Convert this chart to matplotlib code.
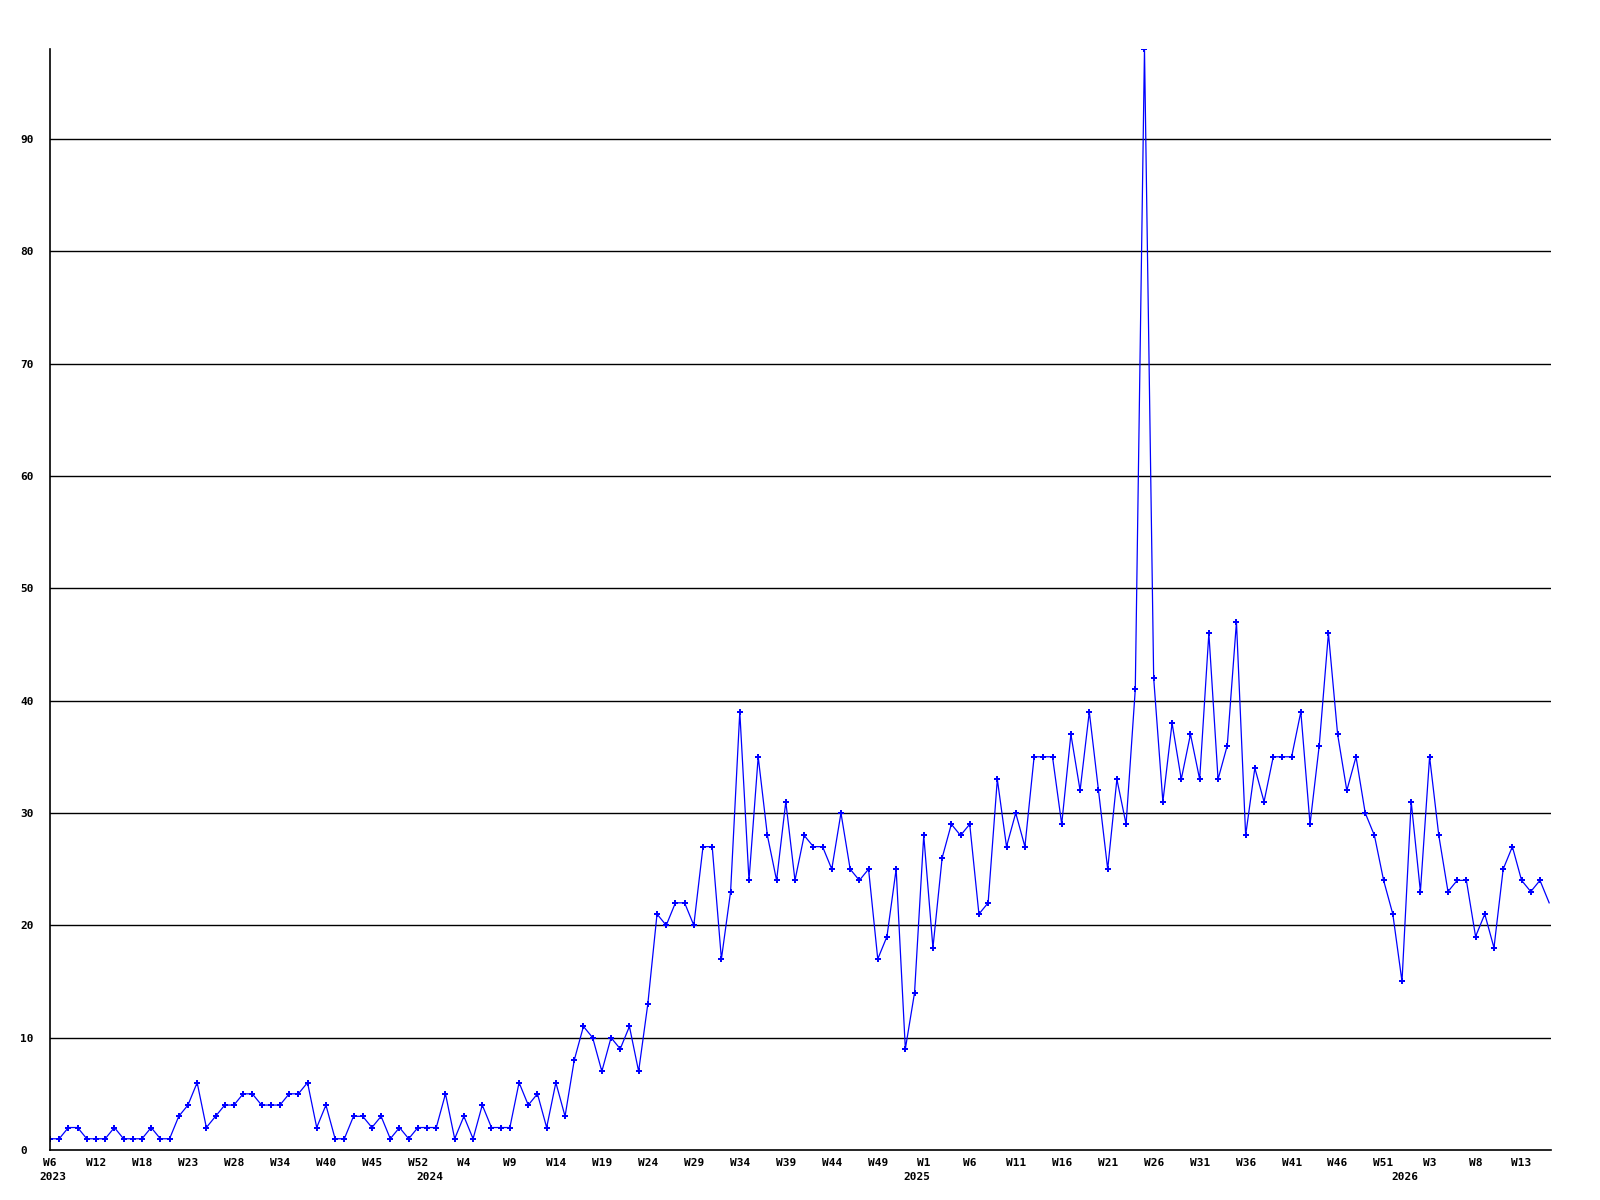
import matplotlib
matplotlib.use('Agg')
import matplotlib.pyplot as plt

# weekly counts, 2023 W6 onwards
values = [1, 1, 2, 2, 1, 1, 1, 2, 1, 1, 1, 2, 1, 1, 3, 4, 6, 2, 3, 4,
          4, 5, 5, 4, 4, 4, 5, 5, 6, 2, 4, 1, 1, 3, 3, 2, 3, 1, 2, 1,
          2, 2, 2, 5, 1, 3, 1, 4, 2, 2, 2, 6, 4, 5, 2, 6, 3, 8, 11, 10,
          7, 10, 9, 11, 7, 13, 21, 20, 22, 22, 20, 27, 27, 17, 23, 39, 24, 35, 28, 24,
          31, 24, 28, 27, 27, 25, 30, 25, 24, 25, 17, 19, 25, 9, 14, 28, 18, 26, 29, 28,
          29, 21, 22, 33, 27, 30, 27, 35, 35, 35, 29, 37, 32, 39, 32, 25, 33, 29, 41, 98,
          42, 31, 38, 33, 37, 33, 46, 33, 36, 47, 28, 34, 31, 35, 35, 35, 39, 29, 36, 46,
          37, 32, 35, 30, 28, 24, 21, 15, 31, 23, 35, 28, 23, 24, 24, 19, 21, 18, 25, 27,
          24, 23, 24, 22]

week_labels = ['W6', 'W12', 'W18', 'W23', 'W28', 'W34', 'W40', 'W45', 'W52',
               'W4', 'W9', 'W14', 'W19', 'W24', 'W29', 'W34', 'W39', 'W44', 'W49',
               'W1', 'W6', 'W11', 'W16', 'W21', 'W26', 'W31', 'W36', 'W41', 'W46',
               'W51', 'W3', 'W8', 'W13']
LABEL_STEP = 5

years = ['2023', '2024', '2025', '2026']
year_pos = [0.35, 41.3, 94.3, 147.3]

FONT = dict(family='DejaVu Sans Mono', weight='bold', size=8)


def main():
    x = list(range(len(values)))

    fig = plt.figure(figsize=(16, 12), dpi=100)
    ax = fig.add_axes([50 / 1600, 50 / 1200, 1501 / 1600, 1101 / 1200])

    # last week is still open, so no marker on it
    ax.plot(x, values, color='#0000ff', linewidth=0.9,
            marker='P', markersize=4, markeredgewidth=0,
            markevery=list(range(len(values) - 1)))

    ax.set_xlim(0, 163.2)
    ax.set_ylim(0, 98)

    ax.set_yticks(range(0, 100, 10))
    ax.set_yticklabels([str(v) for v in range(0, 100, 10)], fontdict=FONT, ha='left')
    for v in range(10, 100, 10):
        ax.axhline(v, color='black', linewidth=1, zorder=0)

    ax.set_xticks(range(0, LABEL_STEP * len(week_labels), LABEL_STEP))
    ax.set_xticklabels(week_labels, fontdict=FONT)
    ax.set_xticks(year_pos, minor=True)
    ax.set_xticklabels(years, minor=True, fontdict=FONT)

    ax.tick_params(axis='y', length=0, pad=21.6)
    ax.tick_params(axis='x', which='major', length=0, pad=5.5)
    ax.tick_params(axis='x', which='minor', length=0, pad=15.5)

    for side in ('top', 'right'):
        ax.spines[side].set_visible(False)
    for side in ('left', 'bottom'):
        ax.spines[side].set_linewidth(1.2)

    fig.savefig('out.png', dpi=100)


if __name__ == '__main__':
    main()
